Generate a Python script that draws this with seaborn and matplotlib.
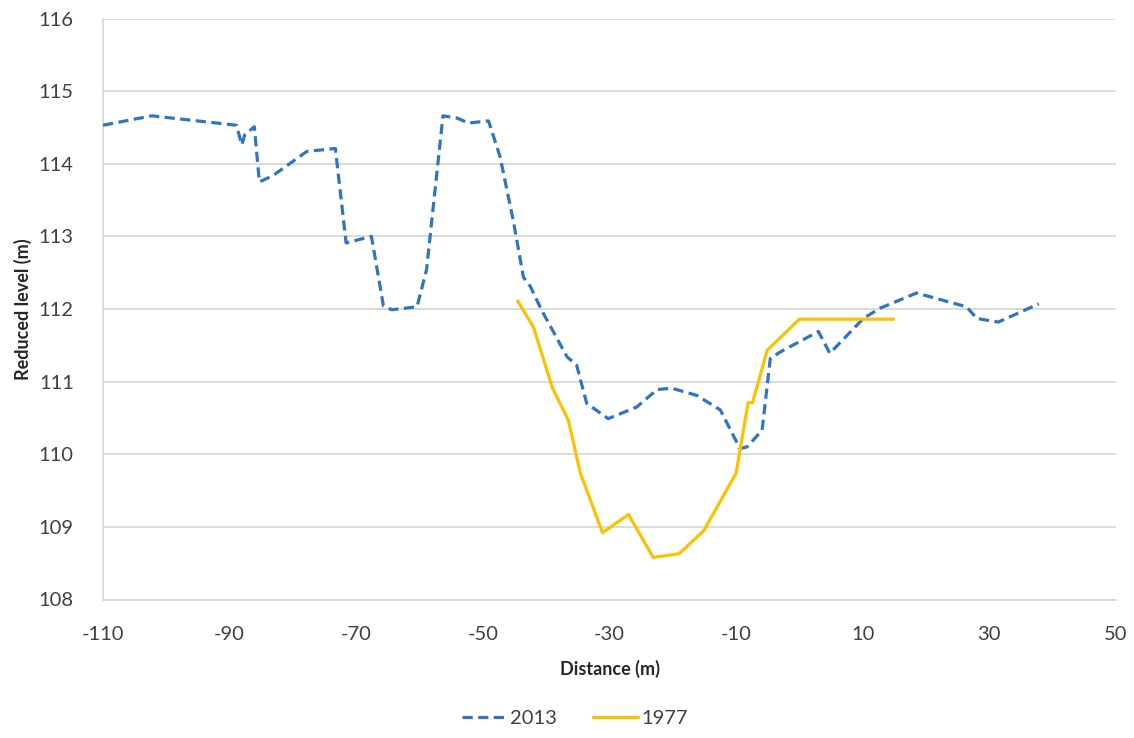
import matplotlib
matplotlib.use("Agg")
import matplotlib.pyplot as plt
import seaborn as sns
import pandas as pd
from matplotlib.lines import Line2D

# 2013 survey profile
dist_2013 = [-110, -102.3, -88.9, -88.1, -87.6, -86.1, -85.3, -83.1, -77.8, -73.3,
             -71.6, -67.6, -65.7, -64.4, -60.4, -58.9, -56.3, -54.1, -52.3, -49.1,
             -47.3, -45.2, -43.6, -42.5, -40.7, -36.7, -35.2, -33.6, -30.2, -25.7,
             -22.5, -20.2, -16.2, -12.5, -9.4, -8.3, -5.9, -4.6, -3.0, 3.0,
             4.8, 10.1, 12.7, 18.5, 26.4, 28.0, 31.4, 37.8]
level_2013 = [114.53, 114.66, 114.53, 114.26, 114.40, 114.51, 113.75, 113.84, 114.17, 114.21,
              112.91, 113.00, 112.04, 111.99, 112.03, 112.54, 114.66, 114.63, 114.56, 114.59,
              114.10, 113.22, 112.44, 112.31, 111.98, 111.34, 111.23, 110.70, 110.49, 110.65,
              110.89, 110.91, 110.81, 110.61, 110.08, 110.10, 110.33, 111.32, 111.41, 111.69,
              111.39, 111.87, 112.01, 112.22, 112.03, 111.87, 111.82, 112.07]

# 1977 survey profile
dist_1977 = [-44.5, -42.0, -39.0, -36.5, -34.6, -31.1, -27.0, -23.1, -19.0, -15.1,
             -10.0, -8.1, -7.4, -5.1, 0.0, 14.9]
level_1977 = [112.11, 111.75, 110.91, 110.47, 109.74, 108.92, 109.17, 108.58, 108.63, 108.95,
              109.74, 110.71, 110.71, 111.43, 111.86, 111.86]

x_ticks = [-110, -90, -70, -50, -30, -10, 10, 30, 50]
y_ticks = [108, 109, 110, 111, 112, 113, 114, 115, 116]

BLUE = "#2E75C6"
GOLD = "#FFC000"
GRID = "#D9D9D9"

sns.set_theme(style="white")
plt.rcParams["font.family"] = ["Lato", "DejaVu Sans"]

df13 = pd.DataFrame({"distance": dist_2013, "level": level_2013})
df77 = pd.DataFrame({"distance": dist_1977, "level": level_1977})

fig = plt.figure(figsize=(11.34, 7.38), dpi=100)
ax = fig.add_axes([103 / 1134, 1 - 599.5 / 738, (1116 - 103) / 1134, 581 / 738])

sns.lineplot(data=df13, x="distance", y="level", sort=False, ax=ax, color=BLUE,
             linewidth=2.3, zorder=3).lines[-1].set_dashes((3.2, 1.7))
sns.lineplot(data=df77, x="distance", y="level", sort=False, ax=ax, color=GOLD,
             linewidth=2.3, zorder=3)

ax.set_xlim(-110, 50)
ax.set_ylim(108, 116)
ax.set_xticks(x_ticks)
ax.set_yticks(y_ticks)
ax.set_xticklabels([str(t) for t in x_ticks])
ax.set_yticklabels([str(t) for t in y_ticks])
ax.yaxis.grid(True, color=GRID, linewidth=1.3)
ax.set_axisbelow(True)
for s in ["top", "right"]:
    ax.spines[s].set_visible(False)
for s in ["left", "bottom"]:
    ax.spines[s].set_color(GRID)
    ax.spines[s].set_linewidth(1.3)
ax.tick_params(axis="both", labelsize=14.5, colors="#404040", length=7, width=1.3)
ax.tick_params(axis="x", pad=12)
ax.tick_params(axis="y", pad=14)
ax.tick_params(axis="both", color=GRID)

ax.set_xlabel("Distance (m)", fontsize=13, fontweight="bold", color="#262626", labelpad=12)
ax.set_ylabel("Reduced level (m)", fontsize=13, fontweight="bold", color="#262626", labelpad=5)

handles = [Line2D([], [], color=BLUE, linewidth=2.3, dashes=(3.2, 1.7)),
           Line2D([], [], color=GOLD, linewidth=2.3)]
fig.legend(handles, ["2013", "1977"], loc="center", bbox_to_anchor=(0.507, 0.027),
           ncol=2, frameon=False, fontsize=14.5, handlelength=2.2, handletextpad=0.2,
           columnspacing=1.8, labelcolor="#404040")

fig.savefig("out.png", dpi=100, facecolor="white")
